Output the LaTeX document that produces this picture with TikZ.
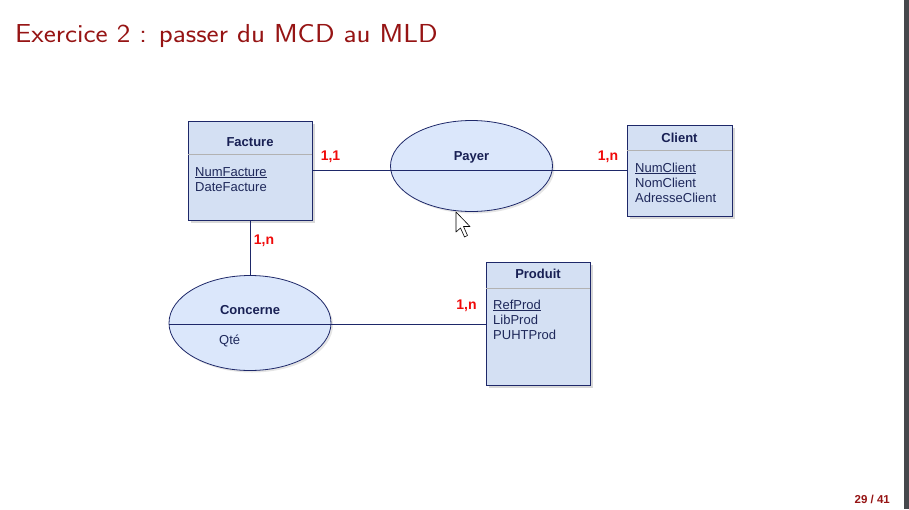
\documentclass[tikz,border=0pt]{standalone}
\usepackage{fontspec}
\setmainfont{Liberation Sans}
\usepackage{tikz}
\usetikzlibrary{positioning,shadows,shapes.geometric}

\definecolor{titlered}{RGB}{150,20,20}
\definecolor{boxfill}{RGB}{212,224,243}
\definecolor{ellfill}{RGB}{219,231,251}
\definecolor{navy}{RGB}{30,40,105}
\definecolor{attrcol}{RGB}{30,40,90}
\definecolor{cardred}{RGB}{240,10,10}
\definecolor{barcol}{RGB}{70,72,76}

\begin{document}
\begin{tikzpicture}[x=1pt,y=-1pt,
                    entite/.style={draw=navy,line width=0.8pt,fill=boxfill,
                       drop shadow={shadow xshift=2.5pt,shadow yshift=-2.5pt,opacity=.3}},
                    assoc/.style={ellipse,draw=navy,line width=0.8pt,fill=ellfill,
                       drop shadow={shadow xshift=2pt,shadow yshift=-2pt,opacity=.2}},
                    lien/.style={draw=navy,line width=0.8pt},
                    sep/.style={draw=black!30,line width=1pt},
                    nom/.style={anchor=base,font=\fontsize{13}{15}\selectfont\bfseries,text=navy!80!black,inner sep=0},
                    attr/.style={anchor=base west,font=\fontsize{13}{15}\selectfont,text=attrcol,inner sep=0},
                    card/.style={anchor=base,font=\fontsize{14}{16}\selectfont\bfseries,text=cardred,inner sep=0}]
  \useasboundingbox[fill=white] (0,0) rectangle (909,509);
  \fill[barcol] (904,0) rectangle (909,509);

  % titre et numero de page
  \node[anchor=base west,inner sep=0,text=titlered,
        font=\sffamily\fontsize{26}{30}\selectfont] (titre) at (15,42) {\scalebox{1.11}[1]{Exercice 2 : passer du MCD au MLD}};
  \node[anchor=base east,inner sep=0,text=titlered,
        font=\bfseries\fontsize{11.5}{14}\selectfont] (page) at (890,503) {29 / 41};

  % entites
  \node[entite,minimum width=124pt,minimum height=99pt]  (facture) at (250,170.5) {};
  \node[entite,minimum width=105pt,minimum height=91pt]  (client)  at (679.5,170.5) {};
  \node[entite,minimum width=104pt,minimum height=123pt] (produit) at (538,324) {};

  % associations
  \node[assoc,minimum width=162pt,minimum height=91pt] (payer)    at (471.5,166) {};
  \node[assoc,minimum width=162pt,minimum height=95pt] (concerne) at (250,323) {};

  \draw[sep] ([yshift=-34pt]facture.north west) -- ([yshift=-34pt]facture.north east);
  \draw[sep] ([yshift=-26pt]client.north west)  -- ([yshift=-26pt]client.north east);
  \draw[sep] ([yshift=-26pt]produit.north west) -- ([yshift=-26pt]produit.north east);

  \path[lien] (facture.east)     edge (client.west)
              (facture.south)    edge (concerne.north)
              ([yshift=-1pt]concerne.west) edge ([yshift=-1pt]concerne.east)
              ([yshift=-1pt]concerne.east) edge (produit.west);

  % textes
  \node[nom] (nfacture)  at (250,146)   {Facture};
  \node[nom] (nclient)   at (679.5,142) {Client};
  \node[nom] (nproduit)  at (538,278)   {Produit};
  \node[nom] (npayer)    at (471.5,160) {Payer};
  \node[nom] (nconcerne) at (250,314)   {Concerne};

  \node[attr] (numfacture)  at (195,176) {\underline{NumFacture}};
  \node[attr] (datefacture) at (195,191) {DateFacture};
  \node[attr] (numclient)   at (635,172) {\underline{NumClient}};
  \node[attr] (nomclient)   at (635,187) {NomClient};
  \node[attr] (adrclient)   at (635,202) {AdresseClient};
  \node[attr] (refprod)     at (493,309) {\underline{RefProd}};
  \node[attr] (libprod)     at (493,324) {LibProd};
  \node[attr] (puhtprod)    at (493,339) {PUHTProd};
  \node[attr] (qte)         at (219,344) {Qté};

  \node[card] (c11)  at (330.5,160) {1,1};
  \node[card] (c1n)  at (608,160)   {1,n};
  \node[card] (c1n2) at (264,244)   {1,n};
  \node[card] (c1n3) at (466.5,309) {1,n};

  % curseur
  \filldraw[fill=white,draw=black,line width=0.6pt,line join=round]
    (456,212) -- (456,232) -- (460.5,228) -- (464.5,237) -- (467.5,235.5)
    -- (463.5,226.5) -- (470,226.5) -- cycle;
\end{tikzpicture}
\end{document}
